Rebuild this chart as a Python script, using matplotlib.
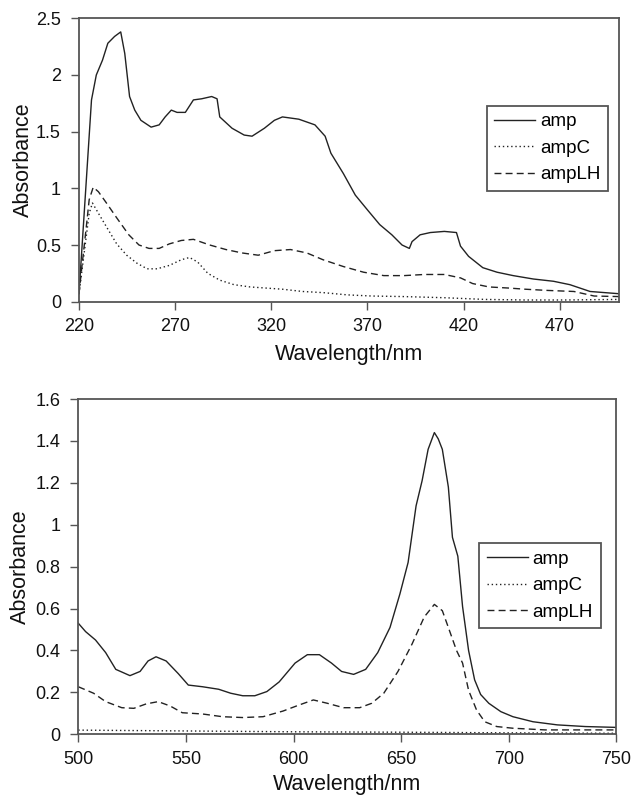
import numpy as np
import matplotlib
matplotlib.use("Agg")
import matplotlib.pyplot as plt

plt.rcParams['font.family'] = ['Liberation Sans', 'DejaVu Sans']

# %%
# UV region (top panel)
uv_amp_x = [220, 226.5, 229, 232.2, 235, 238.5, 241.7, 243.8, 246.3, 249, 252.2, 257.5, 261.7,
            264.8, 268, 271, 275.3, 279.5, 283.8, 289, 291.8, 293.2, 299.6, 305.9, 310, 316.4,
            321.6, 325.8, 334.3, 342.7, 348, 351, 357.5, 363.7, 370, 376.4, 382.7, 388, 391.8,
            393.2, 397.4, 402.7, 410, 416.3, 418.4, 422.6, 430, 437.4, 445.8, 456.3, 466.8,
            475.3, 485.8, 501]
uv_amp_y = [0.07, 1.78, 2.0, 2.13, 2.28, 2.34, 2.38, 2.19, 1.81, 1.69, 1.60, 1.54, 1.56,
            1.63, 1.69, 1.67, 1.67, 1.78, 1.79, 1.81, 1.79, 1.63, 1.53, 1.47, 1.46, 1.53,
            1.60, 1.63, 1.61, 1.56, 1.46, 1.31, 1.13, 0.94, 0.81, 0.68, 0.59, 0.50, 0.47,
            0.53, 0.59, 0.61, 0.62, 0.61, 0.49, 0.40, 0.30, 0.26, 0.23, 0.20, 0.18,
            0.15, 0.09, 0.07]

uv_lh_x = [220, 221.7, 223.8, 225.3, 227.4, 230.1, 234.3, 239.6, 245.9, 251.2, 256.4, 261.7,
           267, 273.2, 279.5, 288, 296.4, 304.8, 313.2, 321.6, 330, 338.5, 346.9, 357.5, 368,
           378.5, 389, 399.6, 410, 418.4, 424.7, 433.2, 443.7, 452.1, 462.7, 477.4, 487.9, 501]
uv_lh_y = [0.07, 0.34, 0.66, 0.90, 1.01, 0.97, 0.87, 0.74, 0.59, 0.50, 0.47, 0.47,
           0.51, 0.54, 0.55, 0.50, 0.46, 0.43, 0.41, 0.45, 0.46, 0.43, 0.37, 0.31, 0.26,
           0.23, 0.23, 0.24, 0.24, 0.21, 0.16, 0.13, 0.12, 0.11, 0.10, 0.09, 0.05, 0.045]

uv_c_x = [220, 222.7, 225.3, 227, 230.1, 234.3, 239.6, 244.8, 250.1, 255.4, 260.6, 267,
          273.2, 277.5, 281.7, 287, 293.2, 300.6, 309, 317.4, 325.8, 336.3, 346.9, 359.6,
          372.2, 389, 410, 431, 452, 473, 501]
uv_c_y = [0.07, 0.43, 0.78, 0.87, 0.78, 0.66, 0.51, 0.41, 0.34, 0.29, 0.29, 0.32,
          0.37, 0.39, 0.35, 0.25, 0.19, 0.15, 0.13, 0.12, 0.11, 0.09, 0.08, 0.06,
          0.05, 0.045, 0.035, 0.02, 0.015, 0.015, 0.02]

# %%
# visible region (bottom panel)
vis_amp_x = [500, 503.4, 508, 512.7, 517.4, 524, 528.7, 532.4, 536.1, 540.8, 546.4, 551.1,
             557.7, 565.2, 570.8, 576.4, 582, 587.6, 593.3, 600.7, 606.4, 612, 617.6, 622.3,
             627.9, 633.5, 639.1, 644.8, 649.4, 653.2, 656.9, 659.7, 662.5, 665.4, 667.2,
             669.1, 671.9, 673.8, 676.3, 678.5, 681.3, 684.1, 686.9, 690.7, 696.3, 701.9,
             711.2, 722.5, 735.6, 750]
vis_amp_y = [0.53, 0.49, 0.45, 0.39, 0.31, 0.28, 0.30, 0.35, 0.37, 0.35, 0.29, 0.235,
             0.227, 0.215, 0.196, 0.184, 0.184, 0.204, 0.25, 0.34, 0.38, 0.38, 0.34, 0.30,
             0.286, 0.31, 0.39, 0.51, 0.67, 0.82, 1.09, 1.21, 1.36, 1.44, 1.41,
             1.36, 1.18, 0.94, 0.85, 0.61, 0.40, 0.26, 0.19, 0.148, 0.108, 0.084,
             0.06, 0.045, 0.037, 0.033]

vis_lh_x = [500, 507.1, 512.7, 520.2, 525.8, 531.5, 537.1, 542.7, 548.3, 557.7, 567, 576.4,
            585.8, 595.1, 602.6, 609.2, 615.7, 623.2, 630.7, 636.3, 641.9, 648.5, 655, 660.7,
            665.4, 669.1, 671.9, 675.7, 678.5, 681.3, 685, 688.8, 694.4, 701.9, 716.9, 735.6, 750]
vis_lh_y = [0.227, 0.196, 0.156, 0.127, 0.124, 0.145, 0.156, 0.135, 0.103, 0.097, 0.084, 0.08,
            0.084, 0.111, 0.14, 0.164, 0.148, 0.127, 0.127, 0.148, 0.196, 0.30, 0.43, 0.56,
            0.62, 0.59, 0.51, 0.40, 0.34, 0.21, 0.116, 0.06, 0.037, 0.029, 0.021, 0.021, 0.021]

vis_c_x = [500, 550, 600, 650, 700, 750]
vis_c_y = [0.02, 0.016, 0.012, 0.01, 0.007, 0.005]

labels = ['amp', 'ampC', 'ampLH']
ink = '#222222'

# %%
fig = plt.figure(figsize=(6.33, 7.96), dpi=100)
ax1 = fig.add_axes([0.1248, 0.621, 0.8536, 0.356])
ax2 = fig.add_axes([0.1237, 0.0775, 0.8502, 0.4212])


def style_axes(ax, xlab_y, ylab_x):
    for s in ax.spines.values():
        s.set_color('#555555')
        s.set_linewidth(1.3)
    ax.tick_params(direction='out', length=6, width=1, color='#555555',
                   labelsize=13, labelcolor='#111111')
    ax.tick_params(axis='x', pad=6)
    ax.tick_params(axis='y', pad=7)
    ax.set_xlabel('Wavelength/nm', fontsize=15.5, color='#111111', va='center')
    ax.set_ylabel('Absorbance', fontsize=15.5, color='#111111', va='center')
    ax.xaxis.set_label_coords(0.5, xlab_y)
    ax.yaxis.set_label_coords(ylab_x, 0.5)


def draw_legend(ax, anchor):
    leg = ax.legend(labels, loc='upper left', bbox_to_anchor=anchor, borderaxespad=0,
                    fancybox=False, edgecolor='#555555', fontsize=13.5, handlelength=2.2,
                    handletextpad=0.25, labelspacing=0.5, borderpad=0.4, framealpha=1)
    leg.get_frame().set_linewidth(1.3)


ax1.plot(uv_amp_x, uv_amp_y, color=ink, lw=1.0, ls='-')
ax1.plot(uv_c_x, uv_c_y, color=ink, lw=1.0, ls=(0, (1, 2)))
ax1.plot(uv_lh_x, uv_lh_y, color=ink, lw=1.0, ls=(0, (5, 3)))
ax1.set_xlim(220, 501)
ax1.set_ylim(0, 2.5)
ax1.set_xticks([220, 270, 320, 370, 420, 470])
ax1.set_yticks([0, 0.5, 1, 1.5, 2, 2.5])
ax1.set_yticklabels(['0', '0.5', '1', '1.5', '2', '2.5'])
style_axes(ax1, -0.188, -0.102)
draw_legend(ax1, (0.7546, 0.6916))

ax2.plot(vis_amp_x, vis_amp_y, color=ink, lw=1.0, ls='-')
ax2.plot(vis_c_x, vis_c_y, color=ink, lw=1.0, ls=(0, (1, 2)))
ax2.plot(vis_lh_x, vis_lh_y, color=ink, lw=1.0, ls=(0, (5, 3)))
ax2.set_xlim(500, 750)
ax2.set_ylim(0, 1.6)
ax2.set_xticks([500, 550, 600, 650, 700, 750])
ax2.set_yticks([0, 0.2, 0.4, 0.6, 0.8, 1, 1.2, 1.4, 1.6])
ax2.set_yticklabels(['0', '0.2', '0.4', '0.6', '0.8', '1', '1.2', '1.4', '1.6'])
style_axes(ax2, -0.151, -0.108)
draw_legend(ax2, (0.745, 0.5705))

fig.savefig('out.png', dpi=100)
